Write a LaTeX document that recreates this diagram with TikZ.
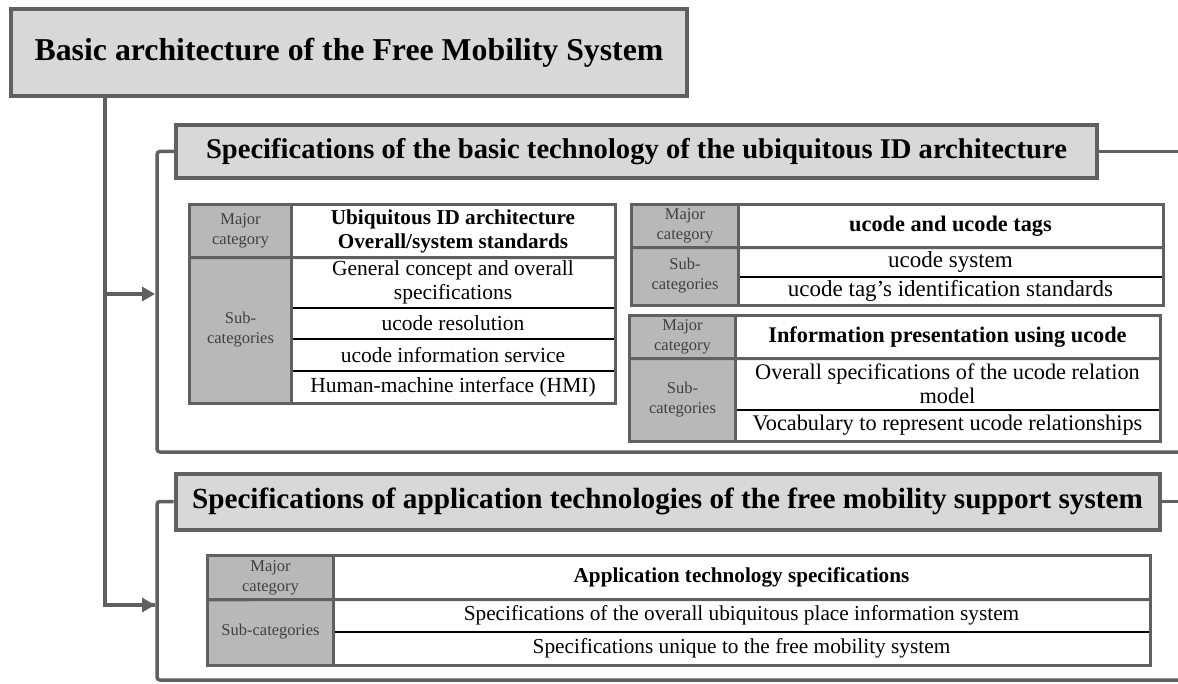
\documentclass[tikz,border=0pt]{standalone}
\usepackage{fontspec}
\setmainfont{Liberation Serif}
\usetikzlibrary{arrows.meta}
\definecolor{bd}{HTML}{606060}
\definecolor{tfill}{HTML}{D8D8D8}
\definecolor{lfill}{HTML}{B8B8B8}
\definecolor{ltext}{HTML}{404040}
\tikzset{
  titlebox/.style={draw=bd, line width=4.5pt, fill=tfill, inner sep=0pt, font=\bfseries\fontsize{31.8}{34}\selectfont},
  secbox/.style={draw=bd, line width=4pt, fill=tfill, inner sep=0pt, font=\bfseries\fontsize{#1}{31}\selectfont},
  lab/.style={fill=lfill, draw=bd, line width=1.5pt, inner sep=0pt, align=center, text=ltext, font=\fontsize{16.5}{20}\selectfont},
  cell/.style={draw=black, line width=1.4pt, fill=white, inner sep=0pt, align=center, font=\fontsize{#1}{24.5}\selectfont},
  majcell/.style={cell, font=\bfseries\fontsize{#1}{24}\selectfont},
  frame/.style={draw=bd, line width=3.5pt, rounded corners=3pt},
  outl/.style={draw=bd, line width=3pt},
  conn/.style={draw=bd, line width=3.5pt},
  arr/.style={conn, -{Triangle[length=13pt,width=14pt]}}
}
\begin{document}
\begin{tikzpicture}[x=1pt,y=-1pt]
\useasboundingbox (0,0) rectangle (1178,684);
% main title
\node[titlebox, minimum width=676pt, minimum height=87pt] (root) at (349,52.5) {Basic architecture of the Free Mobility System};
% section 1 frame + title
\node[secbox=28.6, minimum width=921pt, minimum height=53pt] (s1) at (636.5,151.5) {Specifications of the basic technology of the ubiquitous ID architecture};
\coordinate (f1r) at (1180,151.5);
\coordinate (f1b) at (1180,452);
\draw[frame] (s1.west) -- (157,151.5) -- (157,452) -- (f1b);
\draw[conn] (s1.east) -- (f1r);
% section 2 frame + title
\node[secbox=29.2, minimum width=984pt, minimum height=56pt] (s2) at (667.5,501.5) {Specifications of application technologies of the free mobility support system};
\coordinate (f2r) at (1180,501.5);
\coordinate (f2b) at (1180,680);
\draw[frame] (s2.west) -- (157,501.5) -- (157,680) -- (f2b);
\draw[conn] (s2.east) -- (f2r);
% connectors
\coordinate (a1) at (155,294);
\coordinate (a2) at (155,605);
\coordinate (j1) at (105,294);
\draw[conn] (root.south -| 105,0) -- (105,605) -- (a2);
\draw[arr] (j1) -- (a1);
\draw[arr] (125,605) -- (a2);

% ---------- Table 1
\node[lab, minimum width=101pt, minimum height=52pt] (t1l1) at (240.5,231) {Major\\category};
\node[lab, minimum width=101pt, minimum height=146pt] (t1l2) at (240.5,330) {Sub-\\categories};
\node[majcell=21.2, minimum width=324pt, minimum height=52pt] (t1a) at (453,231) {Ubiquitous ID architecture\\Overall/system standards};
\node[cell=21.5, minimum width=324pt, minimum height=51pt] (t1b) at (453,282.5) {General concept and overall\\specifications};
\node[cell=21.5, minimum width=324pt, minimum height=31pt] (t1c) at (453,323.5) {ucode resolution};
\node[cell=21.5, minimum width=324pt, minimum height=32pt] (t1d) at (453,355) {ucode information service};
\node[cell=21.5, minimum width=324pt, minimum height=32pt] (t1e) at (453,387) {Human-machine interface (HMI)};
\draw[outl] (t1l1.south west) -- (t1a.south east);
\draw[outl] (t1l1.north east) -- (t1l2.south east);
\draw[outl] (t1l1.north west) rectangle (t1e.south east);

% ---------- Table 2
\node[lab, minimum width=106pt, minimum height=42pt] (t2l1) at (685,226) {Major\\category};
\node[lab, minimum width=106pt, minimum height=58pt] (t2l2) at (685,276) {Sub-\\categories};
\node[majcell=22.3, minimum width=425pt, minimum height=42pt] (t2a) at (950.5,226) {ucode and ucode tags};
\node[cell=23, minimum width=425pt, minimum height=30pt] (t2b) at (950.5,262) {ucode system};
\node[cell=23, minimum width=425pt, minimum height=28pt] (t2c) at (950.5,291) {ucode tag’s identification standards};
\draw[outl] (t2l1.south west) -- (t2a.south east);
\draw[outl] (t2l1.north east) -- (t2l2.south east);
\draw[outl] (t2l1.north west) rectangle (t2c.south east);

% ---------- Table 3
\node[lab, minimum width=105pt, minimum height=42pt] (t3l1) at (682.5,337) {Major\\category};
\node[lab, minimum width=105pt, minimum height=83pt] (t3l2) at (682.5,399.5) {Sub-\\categories};
\node[majcell=22.3, minimum width=425pt, minimum height=42pt] (t3a) at (947.5,337) {Information presentation using ucode};
\node[cell=22.3, minimum width=425pt, minimum height=52pt] (t3b) at (947.5,384) {Overall specifications of the ucode relation\\model};
\node[cell=22.3, minimum width=425pt, minimum height=31pt] (t3c) at (947.5,425.5) {Vocabulary to represent ucode relationships};
\draw[outl] (t3l1.south west) -- (t3a.south east);
\draw[outl] (t3l1.north east) -- (t3l2.south east);
\draw[outl] (t3l1.north west) rectangle (t3c.south east);

% ---------- Table 4
\node[lab, minimum width=125pt, minimum height=43pt] (t4l1) at (270.5,577.5) {Major\\category};
\node[lab, minimum width=125pt, minimum height=66pt] (t4l2) at (270.5,632) {Sub-categories};
\node[majcell=21.2, minimum width=817pt, minimum height=43pt] (t4a) at (741.5,577.5) {Application technology specifications};
\node[cell=21.3, minimum width=817pt, minimum height=33pt] (t4b) at (741.5,615.5) {Specifications of the overall ubiquitous place information system};
\node[cell=21.3, minimum width=817pt, minimum height=33pt] (t4c) at (741.5,648.5) {Specifications unique to the free mobility system};
\draw[outl] (t4l1.south west) -- (t4a.south east);
\draw[outl] (t4l1.north east) -- (t4l2.south east);
\draw[outl] (t4l1.north west) rectangle (t4c.south east);
\end{tikzpicture}
\end{document}
